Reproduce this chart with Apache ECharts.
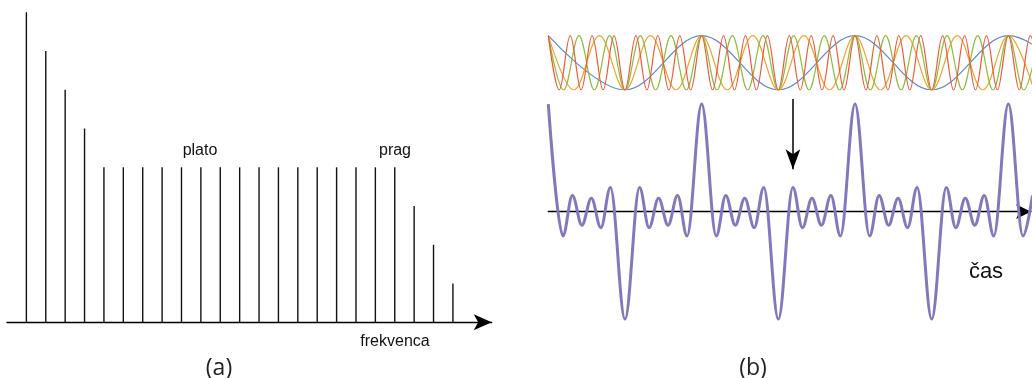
<!DOCTYPE html>
<html>
<head>
<meta charset="utf-8">
<title>Harmoniki</title>
<script src="https://cdn.jsdelivr.net/npm/echarts@6/dist/echarts.min.js"></script>
<style>
  html, body { margin: 0; padding: 0; background: #fff; }
  #chart { width: 1032px; height: 378px; }
</style>
</head>
<body>
<div id="chart"></div>
<script>
// (a) spectrum: harmonic order and line height
const harmonicOrders = [1, 2, 3, 4, 5, 6, 7, 8, 9, 10, 11, 12, 13, 14, 15, 16, 17, 18, 19, 20, 21, 22, 23]
const harmonicHeights = [8, 7, 6, 5, 4, 4, 4, 4, 4, 4, 4, 4, 4, 4, 4, 4, 4, 4, 4, 4, 3, 2, 1]

// (b) phase units: one period of the fundamental = 210
// peaks / troughs of each harmonic, [phase, value]
const wave1 = [[0, 1], [105, -1], [210, 1], [315, -1], [420, 1], [525, -1], [630, 1], [735, -1]]
const wave3 = [
  [0, 1], [35, -1], [70, 1], [105, -1], [140, 1], [175, -1], [210, 1], [245, -1], [280, 1], [315, -1],
  [350, 1], [385, -1], [420, 1], [455, -1], [490, 1], [525, -1], [560, 1], [595, -1], [630, 1], [665, -1],
]
const wave5 = [
  [0, 1], [21, -1], [42, 1], [63, -1], [84, 1], [105, -1], [126, 1], [147, -1], [168, 1], [189, -1],
  [210, 1], [231, -1], [252, 1], [273, -1], [294, 1], [315, -1], [336, 1], [357, -1], [378, 1], [399, -1],
  [420, 1], [441, -1], [462, 1], [483, -1], [504, 1], [525, -1], [546, 1], [567, -1], [588, 1], [609, -1],
  [630, 1], [651, -1], [672, 1],
]
const wave7 = [
  [0, 1], [15, -1], [30, 1], [45, -1], [60, 1], [75, -1], [90, 1], [105, -1], [120, 1], [135, -1],
  [150, 1], [165, -1], [180, 1], [195, -1], [210, 1], [225, -1], [240, 1], [255, -1], [270, 1], [285, -1],
  [300, 1], [315, -1], [330, 1], [345, -1], [360, 1], [375, -1], [390, 1], [405, -1], [420, 1], [435, -1],
  [450, 1], [465, -1], [480, 1], [495, -1], [510, 1], [525, -1], [540, 1], [555, -1], [570, 1], [585, -1],
  [600, 1], [615, -1], [630, 1], [645, -1], [660, 1], [675, -1],
]
// sum of the four harmonics, read at its turning points
const waveSum = [
  [0, 4], [20, -0.9], [33, 0.6], [46, -0.5], [59, 0.5], [72, -0.6], [85, 0.9],
  [105, -4], [125, 0.9], [138, -0.6], [151, 0.5], [164, -0.5], [177, 0.6], [190, -0.9],
  [210, 4], [230, -0.9], [243, 0.6], [256, -0.5], [269, 0.5], [282, -0.6], [295, 0.9],
  [315, -4], [335, 0.9], [348, -0.6], [361, 0.5], [374, -0.5], [387, 0.6], [400, -0.9],
  [420, 4], [440, -0.9], [453, 0.6], [466, -0.5], [479, 0.5], [492, -0.6], [505, 0.9],
  [525, -4], [545, 0.9], [558, -0.6], [571, 0.5], [584, -0.5], [597, 0.6], [610, -0.9],
  [630, 4], [650, -0.9], [663, 0.6],
]
// pointer arrow above the sum curve: phase, from value, to value
const pointerPhase = 335
const pointerFrom = 4.19
const pointerTo = 1.58

const labelFont = "16px 'Liberation Sans', Arial, sans-serif"
const captionFont = "23px 'Open Sans', sans-serif"

const chart = echarts.init(document.getElementById("chart"), null, { renderer: "canvas" })

const hiddenAxis = {
  show: false,
  splitLine: { show: false },
}

function harmonicSeries(name, data, color) {
  return {
    name: name,
    type: "line",
    xAxisIndex: 1,
    yAxisIndex: 1,
    data: data,
    smooth: 0.36,
    smoothMonotone: "x",
    symbol: "none",
    lineStyle: { width: 1.2, color: color },
    silent: true,
  }
}

chart.setOption({
  animation: false,
  backgroundColor: "#ffffff",
  grid: [
    { left: 7, top: 12.3, width: 484.7, height: 310 },
    { left: 548.3, top: 35.7, width: 482.7, height: 54.3 },
    { left: 548.3, top: 98.7, width: 482.7, height: 220.6 },
  ],
  xAxis: [
    {
      gridIndex: 0,
      type: "value",
      min: 0,
      max: 25,
      axisLine: {
        show: true,
        symbol: ["none", "arrow"],
        symbolSize: [12, 18],
        lineStyle: { color: "#000", width: 1.3 },
      },
      axisTick: { show: false },
      axisLabel: { show: false },
      splitLine: { show: false },
    },
    { gridIndex: 1, type: "value", min: 0, max: 661, ...hiddenAxis },
    {
      gridIndex: 2,
      type: "value",
      min: 0,
      max: 661,
      axisLine: {
        show: true,
        onZero: true,
        symbol: ["none", "arrow"],
        symbolSize: [11, 15],
        lineStyle: { color: "#000", width: 1.3 },
      },
      axisTick: { show: false },
      axisLabel: { show: false },
      splitLine: { show: false },
    },
  ],
  yAxis: [
    { gridIndex: 0, type: "value", min: 0, max: 8, ...hiddenAxis },
    { gridIndex: 1, type: "value", min: -1, max: 1, ...hiddenAxis },
    { gridIndex: 2, type: "value", min: -4, max: 4.2, ...hiddenAxis },
  ],
  series: [
    {
      name: "spekter",
      type: "bar",
      xAxisIndex: 0,
      yAxisIndex: 0,
      barWidth: 1.4,
      itemStyle: { color: "#111" },
      data: harmonicOrders.map((order, i) => [order, harmonicHeights[i]]),
      silent: true,
    },
    harmonicSeries("1. harmonik", wave1, "#5f8bc8"),
    harmonicSeries("3. harmonik", wave3, "#f3a12a"),
    harmonicSeries("5. harmonik", wave5, "#8cbd3f"),
    harmonicSeries("7. harmonik", wave7, "#ee5a38"),
    {
      name: "vsota",
      type: "line",
      xAxisIndex: 2,
      yAxisIndex: 2,
      data: waveSum,
      smooth: 0.36,
      smoothMonotone: "x",
      symbol: "none",
      lineStyle: { width: 3, color: "#8478bc" },
      silent: true,
      markLine: {
        silent: true,
        symbol: ["none", "arrow"],
        symbolSize: [11, 20],
        label: { show: false },
        lineStyle: { color: "#000", width: 1.5, type: "solid" },
        data: [[{ coord: [pointerPhase, pointerFrom] }, { coord: [pointerPhase, pointerTo] }]],
      },
    },
  ],
  graphic: [
    { type: "text", x: 200, y: 151, style: { text: "plato", font: labelFont, fill: "#111", align: "center", verticalAlign: "middle" } },
    { type: "text", x: 395, y: 151, style: { text: "prag", font: labelFont, fill: "#111", align: "center", verticalAlign: "middle" } },
    { type: "text", x: 395, y: 342, style: { text: "frekvenca", font: labelFont, fill: "#111", align: "center", verticalAlign: "middle" } },
    { type: "text", x: 986, y: 272, style: { text: "čas", font: "22px 'Liberation Sans', Arial, sans-serif", fill: "#111", align: "center", verticalAlign: "middle" } },
    { type: "text", x: 219, y: 368, style: { text: "(a)", font: captionFont, fill: "#222", align: "center", verticalAlign: "middle" } },
    { type: "text", x: 753, y: 368, style: { text: "(b)", font: captionFont, fill: "#222", align: "center", verticalAlign: "middle" } },
  ],
})
</script>
</body>
</html>
